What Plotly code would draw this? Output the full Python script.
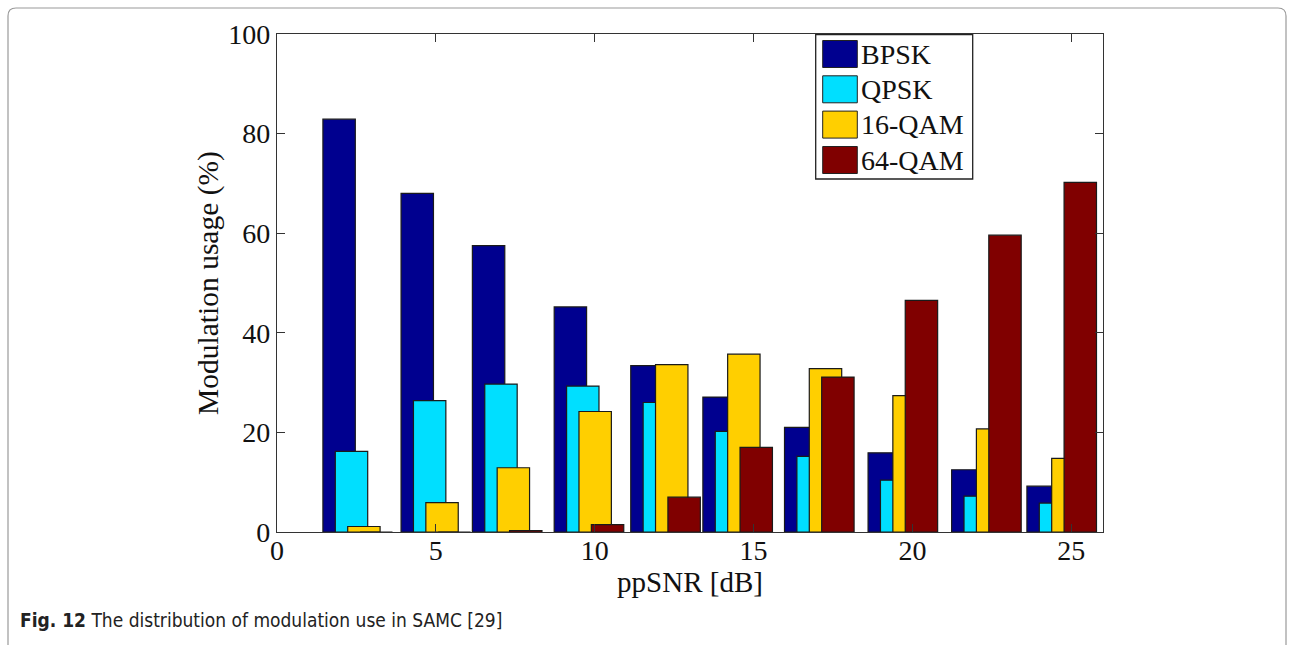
import plotly.graph_objects as go

# ---------------- data ----------------
snr_centers = [2.54, 5.0, 7.245, 9.82, 12.23, 14.5, 17.07, 19.7, 22.33, 24.7]
series_names = ["BPSK", "QPSK", "16-QAM", "64-QAM"]
bpsk = [82.9, 68.0, 57.5, 45.2, 33.4, 27.1, 21.0, 15.9, 12.5, 9.2]
qpsk = [16.2, 26.4, 29.7, 29.3, 26.0, 20.2, 15.2, 10.4, 7.2, 5.8]
qam16 = [1.1, 5.9, 12.9, 24.2, 33.6, 35.7, 32.8, 27.4, 20.7, 14.8]
qam64 = [0.0, 0.0, 0.3, 1.5, 7.0, 17.0, 31.1, 46.5, 59.6, 70.2]
x_ticks = [0, 5, 10, 15, 20, 25]
y_ticks = [0, 20, 40, 60, 80, 100]

# ---------------- styles ----------------
colors = ["#00008F", "#00DFFF", "#FFCF00", "#800000"]
bar_width = 1.02
offsets = [-1.095, -0.705, -0.315, 0.075]
serif = "Liberation Serif, Times New Roman, serif"

W, H = 1294, 645
ML, MR, MT, MB = 277, 191, 34, 113
PW, PH = W - ML - MR, H - MT - MB


def xp(px):
    return (px - ML) / PW


def yp(py):
    return (H - MB - py) / PH


fig = go.Figure()
for name, vals, col, off in zip(series_names, [bpsk, qpsk, qam16, qam64], colors, offsets):
    fig.add_trace(go.Bar(
        x=snr_centers, y=vals, name=name, width=bar_width, offset=off,
        marker=dict(color=col, line=dict(color="#1a1a1a", width=1.2)),
        showlegend=False,
    ))

axis_common = dict(
    showline=True, linecolor="#333333", linewidth=1.4, mirror="ticks",
    ticks="inside", ticklen=8, tickwidth=1.2, tickcolor="#333333",
    showgrid=False, zeroline=False,
    tickfont=dict(family=serif, size=28, color="#111111"),
)

fig.update_layout(
    width=W, height=H,
    margin=dict(l=ML, r=MR, t=MT, b=MB),
    paper_bgcolor="white", plot_bgcolor="white",
    barmode="overlay",
    xaxis=dict(range=[0, 26], tickvals=x_ticks, ticklabelstandoff=-7,
               title=dict(text="ppSNR [dB]", font=dict(family=serif, size=29, color="#111111"), standoff=6),
               **axis_common),
    yaxis=dict(range=[0, 100], tickvals=y_ticks,
               title=dict(text="Modulation usage (%)", font=dict(family=serif, size=29.5, color="#111111"), standoff=0),
               **axis_common),
)

# custom legend (large swatches, as in the original)
shapes = []
annotations = []
shapes.append(dict(type="rect", xref="paper", yref="paper",
                   x0=xp(815.7), x1=xp(972.7), y0=yp(179), y1=yp(34.7),
                   line=dict(color="#222222", width=1.3), fillcolor="white", layer="above"))
row_centers = [54, 89.3, 124.6, 160]
for name, col, cy in zip(series_names, colors, row_centers):
    shapes.append(dict(type="rect", xref="paper", yref="paper",
                       x0=xp(822.7), x1=xp(857.3), y0=yp(cy + 13.5), y1=yp(cy - 13.5),
                       line=dict(color="#222222", width=1), fillcolor=col, layer="above"))
    annotations.append(dict(text=name, xref="paper", yref="paper", x=xp(859), y=yp(cy),
                            xanchor="left", yanchor="middle", showarrow=False,
                            font=dict(family=serif, size=28, color="#111111")))

# page frame (rounded, open at the bottom)
fx0, fx1, fy0, fy1 = xp(8), xp(1286), yp(8), yp(660)
rx, ry = 8 / PW, 8 / PH
frame_path = (f"M{fx0},{fy1} L{fx0},{fy0 - ry} Q{fx0},{fy0} {fx0 + rx},{fy0} "
              f"L{fx1 - rx},{fy0} Q{fx1},{fy0} {fx1},{fy0 - ry} L{fx1},{fy1}")
shapes.append(dict(type="path", xref="paper", yref="paper", path=frame_path,
                   line=dict(color="#9a9a9a", width=1.2), layer="below"))

# caption
annotations.append(dict(
    text="<b>Fig. 12</b> The distribution of modulation use in SAMC [29]",
    xref="paper", yref="paper", x=xp(18), y=yp(620), xanchor="left", yanchor="middle",
    showarrow=False,
    font=dict(family="DejaVu Sans Condensed, Liberation Sans Narrow, Roboto, sans-serif", size=19, color="#222222")))

fig.update_layout(shapes=shapes, annotations=annotations)
fig.write_html("out.html")
